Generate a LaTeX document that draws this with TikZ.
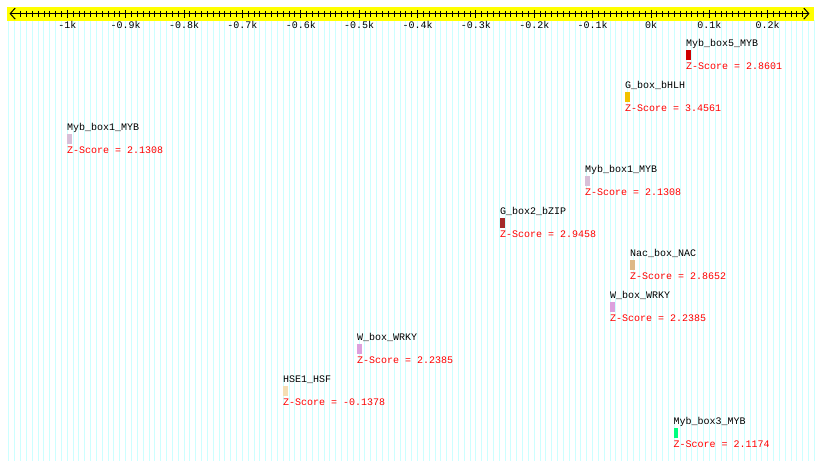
\documentclass[tikz,border=0pt]{standalone}
\usepackage{fontspec}
\setmonofont{Liberation Mono}
\usetikzlibrary{arrows.meta}
\definecolor{gridc}{HTML}{CCFFFF}
\definecolor{axisband}{HTML}{FFFF00}
\definecolor{cA}{HTML}{D00000}
\definecolor{cB}{HTML}{F2C200}
\definecolor{cC}{HTML}{D8BFD8}
\definecolor{cD}{HTML}{A52A2A}
\definecolor{cE}{HTML}{DEB887}
\definecolor{cF}{HTML}{DDA0DD}
\definecolor{cG}{HTML}{F5DEB3}
\definecolor{cH}{HTML}{00FF7F}
\begin{document}
\begin{tikzpicture}[x=1pt,y=-1pt,
  lbl/.style={font=\ttfamily\fontsize{10}{10}\selectfont, inner sep=0pt, anchor=base west},
  zs/.style={lbl, text=red},
  ticklbl/.style={font=\ttfamily\fontsize{10}{10}\selectfont, inner sep=0pt, anchor=base},
  sitebox/.style={inner sep=0pt, minimum width=4.3pt, minimum height=10pt, anchor=north west},
  gridline/.style={gridc, line width=1pt},
  axisline/.style={black, line width=1pt},
  minortick/.style={black, line width=0.9pt},
  majortick/.style={black, line width=1pt}]
\fill[white] (0,0) rectangle (820,461);
\path[use as bounding box] (0,0) rectangle (820,461);
% background grid
\foreach \k in {-110,...,28}
  \draw[gridline] ({651+\k*5.837},20) -- ({651+\k*5.837},461);
% axis band
\fill[axisband] (7,7) rectangle (814,20.5);
\coordinate (aL) at (9.5,13.6);
\coordinate (aR) at (809.5,13.6);
\draw[axisline, {Straight Barb[length=5pt,width=11pt]}-{Straight Barb[length=5pt,width=11pt]}] (aL) -- (aR);
\foreach \k in {-108,...,26}
  \draw[minortick] ({651+\k*5.837},10.8) -- ({651+\k*5.837},16.6);
\foreach \k/\t in {-100/-1k,-90/-0.9k,-80/-0.8k,-70/-0.7k,-60/-0.6k,-50/-0.5k,-40/-0.4k,-30/-0.3k,-20/-0.2k,-10/-0.1k,0/0k,10/0.1k,20/0.2k}{
  \draw[majortick] ({651+\k*5.837},9.8) -- ({651+\k*5.837},18.3);
  \node[ticklbl] (tk\k) at ({651+\k*5.837},28) {\t};
}
% sites
\foreach \x/\nm/\col/\z [count=\i from 0] in {
  686/Myb\_box5\_MYB/cA/2.8601,
  625/G\_box\_bHLH/cB/3.4561,
  67/Myb\_box1\_MYB/cC/2.1308,
  585/Myb\_box1\_MYB/cC/2.1308,
  500/G\_box2\_bZIP/cD/2.9458,
  630/Nac\_box\_NAC/cE/2.8652,
  610/W\_box\_WRKY/cF/2.2385,
  357/W\_box\_WRKY/cF/2.2385,
  283/HSE1\_HSF/cG/-0.1378,
  673.5/Myb\_box3\_MYB/cH/2.1174}{
  \node[lbl] (n\i) at (\x,{46.3+42*\i}) {\nm};
  \node[sitebox, fill=\col] (b\i) at (\x,{49.5+42*\i}) {};
  \node[zs] (z\i) at (\x,{69+42*\i}) {Z-Score = \z};
}
\end{tikzpicture}
\end{document}
